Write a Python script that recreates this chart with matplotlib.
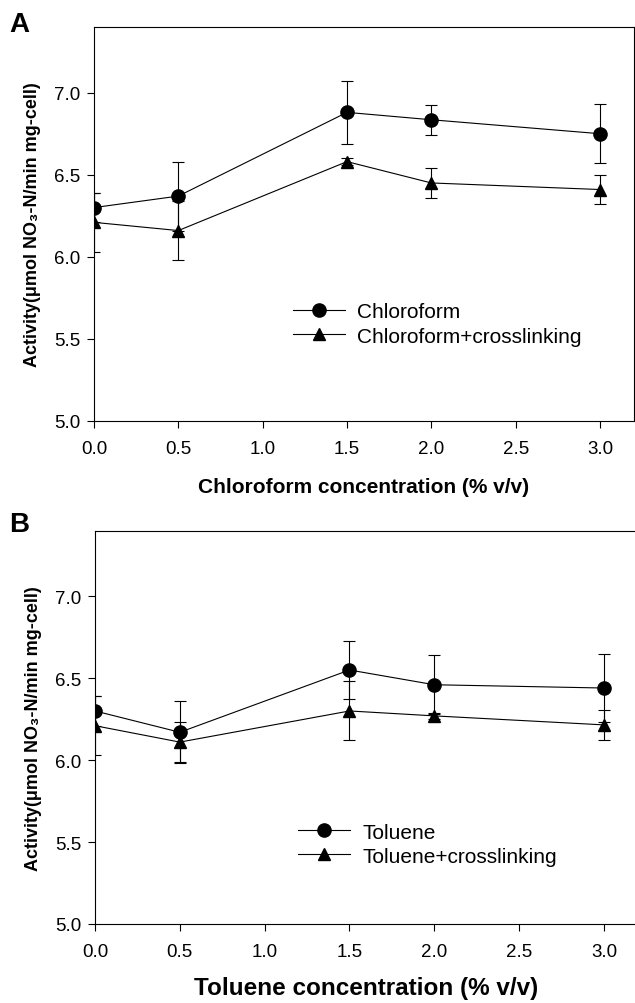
import numpy as np
import matplotlib
matplotlib.use('Agg')
import matplotlib.pyplot as plt

plt.rcParams['font.family'] = ['Liberation Sans', 'DejaVu Sans']

conc = [0.0, 0.5, 1.5, 2.0, 3.0]

# panel A - chloroform
chl = [6.30, 6.37, 6.88, 6.835, 6.75]
chl_err = [0.09, 0.21, 0.19, 0.09, 0.18]
chl_x = [6.21, 6.16, 6.58, 6.45, 6.41]
chl_x_err = [0.18, 0.18, 0.02, 0.09, 0.09]

# panel B - toluene
tol = [6.30, 6.17, 6.55, 6.46, 6.44]
tol_err = [0.09, 0.19, 0.18, 0.18, 0.21]
tol_x = [6.21, 6.11, 6.30, 6.27, 6.215]
tol_x_err = [0.18, 0.12, 0.18, 0.02, 0.09]

xticks = [0.0, 0.5, 1.0, 1.5, 2.0, 2.5, 3.0]
yticks = [5.0, 5.5, 6.0, 6.5, 7.0]
ylab = 'Activity(\u03bcmol NO\u2083-N/min mg-cell)'

fig = plt.figure(figsize=(6.35, 10.04), dpi=100)
axA = fig.add_axes([0.148, 0.5797, 0.850, 0.3924])
axB = fig.add_axes([0.1496, 0.0787, 0.855, 0.3917])


def panel(ax, y1, e1, y2, e2, lab1, lab2, xlabel, xlsize, xlpad, legpos):
    c1 = ax.errorbar(conc, y1, yerr=e1, color='black', lw=0.8, elinewidth=0.8,
                     capsize=4.3, capthick=0.8, marker='o', ms=9.5)
    c2 = ax.errorbar(conc, y2, yerr=e2, color='black', lw=0.8, elinewidth=0.8,
                     capsize=4.3, capthick=0.8, marker='^', ms=9)
    ax.set_xlim(0, 3.2)
    ax.set_ylim(5.0, 7.4)
    ax.set_xticks(xticks)
    ax.set_xticklabels(['%.1f' % t for t in xticks])
    ax.set_yticks(yticks)
    ax.set_yticklabels(['%.1f' % t for t in yticks])
    ax.tick_params(direction='out', length=5, width=0.8, labelsize=13.5)
    ax.tick_params(axis='x', pad=9)
    ax.tick_params(axis='y', pad=5)
    for s in ax.spines.values():
        s.set_linewidth(0.8)
    ax.set_xlabel(xlabel, fontsize=xlsize, fontweight='bold', labelpad=xlpad)
    ax.set_ylabel(ylab, fontsize=13, fontweight='bold', labelpad=9)
    ax.legend([c1[0], c2[0]], [lab1, lab2], loc='center left', bbox_to_anchor=legpos,
              frameon=False, fontsize=15, handlelength=2.5, handletextpad=0.6,
              labelspacing=0.25, borderpad=0, borderaxespad=0)


panel(axA, chl, chl_err, chl_x, chl_x_err, 'Chloroform', 'Chloroform+crosslinking',
      'Chloroform concentration (% v/v)', 15, 14, (0.368, 0.246))
panel(axB, tol, tol_err, tol_x, tol_x_err, 'Toluene', 'Toluene+crosslinking',
      'Toluene concentration (% v/v)', 17.5, 11, (0.374, 0.203))

fig.text(0.015, 0.988, 'A', fontsize=20, fontweight='bold', va='top')
fig.text(0.015, 0.490, 'B', fontsize=20, fontweight='bold', va='top')

fig.savefig('out.png', dpi=100)
